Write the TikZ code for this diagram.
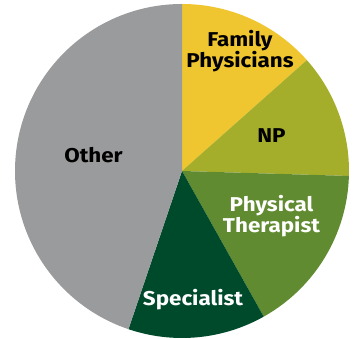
\documentclass[tikz,border=0pt]{standalone}
\usepackage{fontspec}
\setmainfont{Fira Sans}[FakeStretch=1.12]
\usepackage{xcolor}

\definecolor{famyellow}{HTML}{F0C630}
\definecolor{npolive}{HTML}{A5AE2B}
\definecolor{ptgreen}{HTML}{608B30}
\definecolor{specdark}{HTML}{004A2C}
\definecolor{othergrey}{HTML}{9A9B9D}

\tikzset{slicelabel/.style={font=\fontsize{20}{21.5}\selectfont\bfseries, align=center, inner sep=0pt}}

\begin{document}
\begin{tikzpicture}[x=1pt,y=1pt]
\useasboundingbox (0,0) rectangle (356,339);

%centre of the pie
\coordinate (ctr) at (182,168);

%slices
\foreach \a/\b/\col in {41.6/90/famyellow, -1.7/41.6/npolive, -60.7/-1.7/ptgreen, -108.7/-60.7/specdark, 90/251.3/othergrey}
  \fill [\col] (ctr) -- ++(\a:167) arc [start angle=\a, end angle=\b, radius=167] -- cycle;

%labels
\node [slicelabel] (family) at (240,288) {Family\\Physicians};
\node [slicelabel] (np) at (271.5,203.5) {NP};
\node [slicelabel, white] (therapist) at (271.5,123) {Physical\\Therapist};
\node [slicelabel, white] (specialist) at (193,39.5) {Specialist};
\node [slicelabel] (other) at (93.5,184) {Other};

\end{tikzpicture}
\end{document}
